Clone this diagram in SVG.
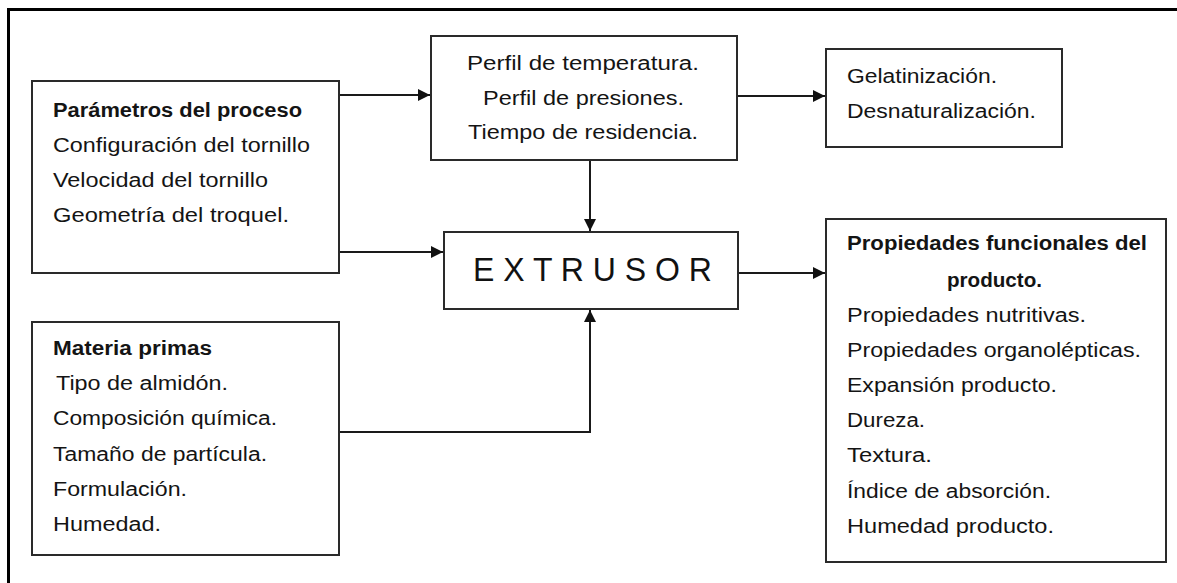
<svg xmlns="http://www.w3.org/2000/svg" width="1177" height="583" viewBox="0 0 1177 583">
<style>
.box{fill:#fff;stroke:#2a2a2a;stroke-width:2}
.t{font-family:"Liberation Sans",Arial,sans-serif;font-size:20px;fill:#141414}
.b{font-weight:bold}
.ex{font-family:"Liberation Sans",Arial,sans-serif;font-size:34px;fill:#111}
.conn{fill:none;stroke:#1a1a1a;stroke-width:2}
</style>
<defs>
<marker id="ah" markerUnits="userSpaceOnUse" markerWidth="14" markerHeight="14" refX="12" refY="6" orient="auto">
<path d="M0,0 L12,6 L0,12 z" fill="#111"/>
</marker>
</defs>
<rect width="1177" height="583" fill="#fff"/>
<path d="M8.5,583 V9.5 H1177" fill="none" stroke="#000" stroke-width="3"/>
<g id="connectors">
<path class="conn" d="M339,95 H430" marker-end="url(#ah)"/>
<path class="conn" d="M737,96 H825" marker-end="url(#ah)"/>
<path class="conn" d="M590,160 V231" marker-end="url(#ah)"/>
<path class="conn" d="M339,252 H443" marker-end="url(#ah)"/>
<path class="conn" d="M738,273 H825" marker-end="url(#ah)"/>
<path class="conn" d="M339,432 H590 V310" marker-end="url(#ah)"/>
</g>
<g id="parametros">
<rect class="box" x="32" y="81" width="307" height="192"/>
<text class="t b" x="53" y="117" textLength="249" lengthAdjust="spacingAndGlyphs">Parámetros del proceso</text>
<text class="t" x="53" y="152" textLength="257" lengthAdjust="spacingAndGlyphs">Configuración del tornillo</text>
<text class="t" x="53" y="187" textLength="215" lengthAdjust="spacingAndGlyphs">Velocidad del tornillo</text>
<text class="t" x="53" y="222" textLength="236" lengthAdjust="spacingAndGlyphs">Geometría del troquel.</text>
</g>
<g id="perfil">
<rect class="box" x="431" y="36" width="306" height="124"/>
<text class="t" x="467" y="70" textLength="232" lengthAdjust="spacingAndGlyphs">Perfil de temperatura.</text>
<text class="t" x="483" y="105" textLength="201" lengthAdjust="spacingAndGlyphs">Perfil de presiones.</text>
<text class="t" x="468" y="139" textLength="230" lengthAdjust="spacingAndGlyphs">Tiempo de residencia.</text>
</g>
<g id="gelatinizacion">
<rect class="box" x="826" y="49" width="236" height="98"/>
<text class="t" x="847" y="83" textLength="150" lengthAdjust="spacingAndGlyphs">Gelatinización.</text>
<text class="t" x="847" y="118" textLength="189" lengthAdjust="spacingAndGlyphs">Desnaturalización.</text>
</g>
<g id="extrusor">
<rect class="box" x="444" y="232" width="294" height="77"/>
<text class="ex" x="473" y="281" textLength="239" lengthAdjust="spacingAndGlyphs">E X T R U S O R</text>
</g>
<g id="propiedades">
<rect class="box" x="826" y="219" width="340" height="343"/>
<text class="t b" x="847" y="250" textLength="300" lengthAdjust="spacingAndGlyphs">Propiedades funcionales del</text>
<text class="t b" x="947" y="287" textLength="95" lengthAdjust="spacingAndGlyphs">producto.</text>
<text class="t" x="847" y="322" textLength="239" lengthAdjust="spacingAndGlyphs">Propiedades nutritivas.</text>
<text class="t" x="847" y="357" textLength="294" lengthAdjust="spacingAndGlyphs">Propiedades organolépticas.</text>
<text class="t" x="847" y="392" textLength="210" lengthAdjust="spacingAndGlyphs">Expansión producto.</text>
<text class="t" x="847" y="427" textLength="78" lengthAdjust="spacingAndGlyphs">Dureza.</text>
<text class="t" x="847" y="462" textLength="85" lengthAdjust="spacingAndGlyphs">Textura.</text>
<text class="t" x="847" y="498" textLength="204" lengthAdjust="spacingAndGlyphs">Índice de absorción.</text>
<text class="t" x="847" y="533" textLength="207" lengthAdjust="spacingAndGlyphs">Humedad producto.</text>
</g>
<g id="materia">
<rect class="box" x="32" y="322" width="307" height="233"/>
<text class="t b" x="53" y="355" textLength="159" lengthAdjust="spacingAndGlyphs">Materia primas</text>
<text class="t" x="56" y="390" textLength="172" lengthAdjust="spacingAndGlyphs">Tipo  de almidón.</text>
<text class="t" x="53" y="425" textLength="224" lengthAdjust="spacingAndGlyphs">Composición química.</text>
<text class="t" x="53" y="461" textLength="214" lengthAdjust="spacingAndGlyphs">Tamaño de partícula.</text>
<text class="t" x="53" y="496" textLength="134" lengthAdjust="spacingAndGlyphs">Formulación.</text>
<text class="t" x="53" y="531" textLength="108" lengthAdjust="spacingAndGlyphs">Humedad.</text>
</g>
</svg>
